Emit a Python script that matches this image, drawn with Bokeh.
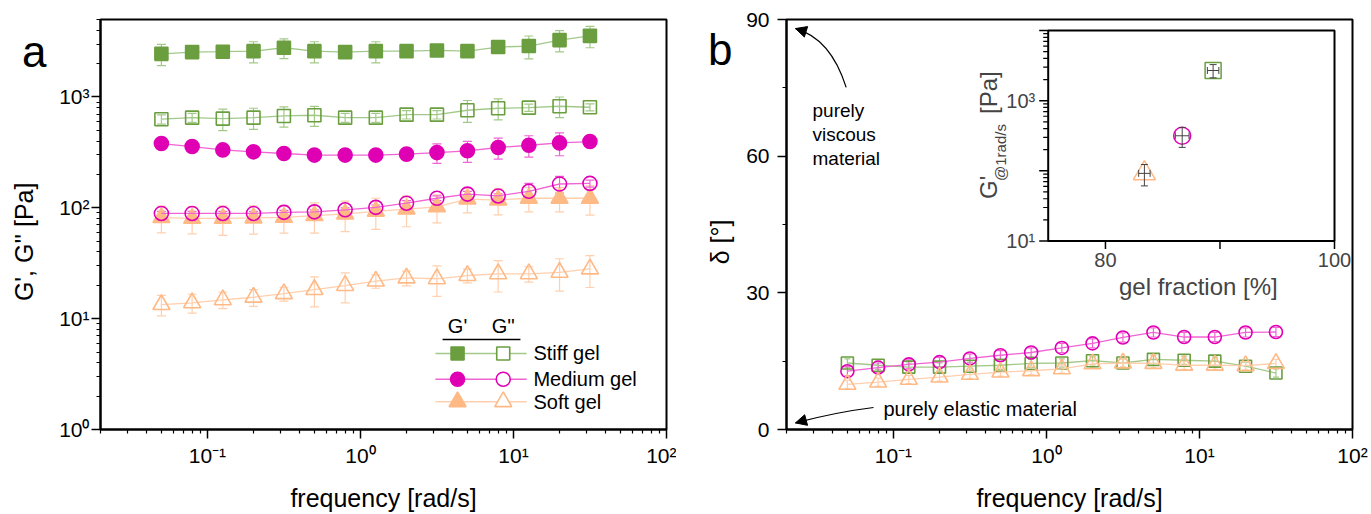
import math
from bokeh.plotting import figure
from bokeh.layouts import row
from bokeh.models import (ColumnDataSource, Whisker, TeeHead, FixedTicker, CustomJSTickFormatter,
                          Label, Arrow, NormalHead, Range1d, LinearScale, LogScale, LinearAxis)
from bokeh.embed import file_html
from bokeh.resources import INLINE

FONT = "Liberation Sans"

# ---------------- data ----------------
freq = [0.05, 0.0794, 0.126, 0.2, 0.316, 0.5, 0.794, 1.26, 2.0, 3.16, 5.0, 7.94, 12.6, 20.0, 31.6]

stiff_Gp = [2450, 2540, 2560, 2590, 2780, 2590, 2540, 2590, 2590, 2630, 2590, 2820, 2880, 3260, 3560]
stiff_Gp_err = [530, 150, 150, 560, 560, 560, 150, 560, 150, 150, 150, 150, 670, 710, 780]
stiff_Gpp = [630, 651, 638, 651, 674, 684, 651, 651, 693, 693, 759, 791, 801, 825, 808]
stiff_Gpp_err = [60, 60, 140, 140, 140, 140, 60, 60, 60, 60, 170, 170, 60, 175, 60]

medium_Gp = [380, 357, 333, 320, 309, 299, 299, 299, 305, 315, 327, 350, 367, 385, 396]
medium_Gp_err = [25, 25, 25, 25, 25, 25, 25, 25, 25, 63, 70, 75, 80, 90, 25]
medium_Gpp = [89, 89, 89, 89, 91, 92, 96, 101, 110, 122, 133, 128, 141, 164, 166]
medium_Gpp_err = [4, 4, 4, 4, 4, 4, 4, 5, 6, 6, 8, 6, 25, 28, 12]

soft_Gp = [81.5, 80.3, 80.3, 81, 82, 85, 88, 93, 97.5, 102, 120, 117.5, 122, 122, 122]
soft_Gp_err = [22, 22, 24, 23, 23, 26, 27, 29, 30, 29, 30, 31, 30, 30, 36]
soft_Gpp = [13.4, 13.9, 14.8, 15.6, 16.8, 18.3, 19.9, 21.8, 23.3, 22.9, 24.5, 25.4, 25.4, 26.2, 28.1]
soft_Gpp_err = [2.8, 2.7, 2.5, 2.7, 2.4, 5.5, 6, 3, 3.5, 7, 3.5, 8, 4, 8.5, 9]

delta_stiff = [14.6, 14.1, 13.7, 13.7, 13.9, 14.1, 14.5, 14.6, 15.1, 14.6, 15.4, 15.2, 15.0, 13.9, 12.4]
delta_stiff_err = [0.9] * 15
delta_medium = [12.8, 13.6, 14.3, 14.8, 15.6, 16.3, 16.9, 17.9, 18.9, 20.2, 21.3, 20.3, 20.3, 21.3, 21.4]
delta_medium_err = [1.0] * 15
delta_soft = [9.9, 10.4, 11.0, 11.5, 12.1, 12.6, 12.9, 13.3, 14.4, 14.6, 14.5, 14.1, 14.1, 14.0, 14.5]
delta_soft_err = [0.9] * 15

gel_fraction = [83.4, 86.7, 89.4]          # soft, medium, stiff
gel_fraction_err = [0.5, 0.6, 0.5]
G_at_1 = [92, 316, 2690]
G_at_1_err = [31, 100, 575]

series_names = ["Stiff gel", "Medium gel", "Soft gel"]
panel_letters = ["a", "b"]

x_major = [0.1, 1, 10, 100]
x_minor = [0.02, 0.03, 0.04, 0.05, 0.06, 0.07, 0.08, 0.09,
           0.2, 0.3, 0.4, 0.5, 0.6, 0.7, 0.8, 0.9,
           2, 3, 4, 5, 6, 7, 8, 9, 20, 30, 40, 50, 60, 70, 80, 90]
ya_major = [1, 10, 100, 1000]
ya_minor = [2, 3, 4, 5, 6, 7, 8, 9, 20, 30, 40, 50, 60, 70, 80, 90,
            200, 300, 400, 500, 600, 700, 800, 900, 2000, 3000, 4000, 5000]
yb_major = [0, 30, 60, 90]
yb_minor = [15, 45, 75]
inset_y_major = [10, 100, 1000, 10000]
inset_y_minor = [2e1, 3e1, 4e1, 5e1, 6e1, 7e1, 8e1, 9e1,
                 2e2, 3e2, 4e2, 5e2, 6e2, 7e2, 8e2, 9e2,
                 2e3, 3e3, 4e3, 5e3, 6e3, 7e3, 8e3, 9e3]
inset_x_ticks = [80, 90, 100]
inset_x_labels = {80: "80", 100: "100"}
inset_y_labels = {10: "10\u00b9", 1000: "10\u00b3"}

# ---------------- styles ----------------
GREEN, GREEN_L = "#6a9e3f", "#a3c98a"
MAG, MAG_L = "#e000b4", "#f064d4"
ORA, ORA_L = "#ffb985", "#ffcfae"

FW, FH = 566, 410
NBSP = "\u00a0"

SUP_JS = """
const s = {"-":"\u207b","0":"\u2070","1":"\u00b9","2":"\u00b2","3":"\u00b3","4":"\u2074","5":"\u2075","6":"\u2076","7":"\u2077","8":"\u2078","9":"\u2079"};
const e = Math.round(Math.log10(tick));
return "10" + String(e).split("").map(c => s[c]).join("");
"""


def style(p):
    p.grid.visible = False
    p.outline_line_color = "black"
    p.outline_line_width = 2
    p.outline_line_alpha = 1
    p.background_fill_color = "white"
    p.border_fill_color = "white"
    for ax in p.axis:
        ax.axis_line_width = 2
        ax.axis_line_color = "black"
        ax.major_tick_line_width = 1.5
        ax.minor_tick_line_width = 1.2
        ax.major_tick_in = 0
        ax.major_tick_out = 9
        ax.minor_tick_in = 0
        ax.minor_tick_out = 4
        ax.major_label_text_font = FONT
        ax.major_label_text_font_size = "21px"
        ax.major_label_text_color = "black"
        ax.axis_label_text_font = FONT
        ax.axis_label_text_font_size = "25px"
        ax.axis_label_text_font_style = "normal"
        ax.axis_label_text_color = "black"


def letter_axis(p, letter, ypos, standoff):
    # an extra, line-less left axis whose single tick label is the panel letter
    ax = LinearAxis(ticker=FixedTicker(ticks=[ypos], minor_ticks=[]),
                    formatter=CustomJSTickFormatter(code=f"return '{letter}';"),
                    axis_line_color=None, major_tick_line_color=None, minor_tick_line_color=None,
                    major_tick_out=0, major_tick_in=0, minor_tick_out=0, minor_tick_in=0,
                    major_label_standoff=standoff, major_label_text_font=FONT,
                    major_label_text_font_size="44px", major_label_text_color="black")
    p.add_layout(ax, "left")


def add_series(p, x, y, err, color, lcolor, marker, size, filled, lw=1.6, cap=9):
    src = ColumnDataSource(dict(x=x, y=y,
                                lo=[a - b for a, b in zip(y, err)],
                                hi=[a + b for a, b in zip(y, err)]))
    w = Whisker(source=src, base="x", lower="lo", upper="hi", dimension="height",
                line_color=lcolor, line_width=1.2, level="underlay",
                lower_head=TeeHead(size=cap, line_color=lcolor, line_width=1.2),
                upper_head=TeeHead(size=cap, line_color=lcolor, line_width=1.2))
    p.add_layout(w)
    p.line("x", "y", source=src, line_color=lcolor, line_width=1.3)
    p.scatter("x", "y", source=src, marker=marker, size=size,
              fill_color=color if filled else None, line_color=color, line_width=lw)


def label(p, text, x, y, size, xo=0, yo=0, align="left", base="middle", angle=0.0, **kw):
    p.add_layout(Label(x=x, y=y, x_offset=xo, y_offset=yo, text=text, text_font=FONT,
                       text_font_size=f"{size}px", text_align=align, text_baseline=base,
                       angle=angle, text_color="black", **kw))


# ---------------- panel a ----------------
pa = figure(frame_width=FW, frame_height=FH, x_axis_type="log", y_axis_type="log",
            x_range=Range1d(0.02, 100), y_range=Range1d(1, 5000),
            output_backend="svg", toolbar_location=None,
            min_border_left=100, min_border_right=10, min_border_top=19, min_border_bottom=84)
style(pa)
pa.xaxis.ticker = FixedTicker(ticks=x_major, minor_ticks=x_minor)
pa.yaxis.ticker = FixedTicker(ticks=ya_major, minor_ticks=ya_minor)
pa.xaxis.formatter = CustomJSTickFormatter(code=SUP_JS)
pa.yaxis.formatter = CustomJSTickFormatter(code=SUP_JS)
pa.xaxis.axis_label = "frequency [rad/s]"
pa.xaxis.axis_label_standoff = 14
pa.xaxis.major_label_standoff = 5
pa.yaxis.major_label_standoff = 2
pa.yaxis.axis_label = "G', G'' [Pa]" + NBSP * 5
pa.yaxis.axis_label_standoff = 18
letter_axis(pa, panel_letters[0], 2550, -39)

add_series(pa, freq, soft_Gpp, soft_Gpp_err, ORA, ORA_L, "triangle", 17, False)
add_series(pa, freq, soft_Gp, soft_Gp_err, ORA, ORA_L, "triangle", 17, True)
add_series(pa, freq, medium_Gp, medium_Gp_err, MAG, MAG_L, "circle", 14, True)
add_series(pa, freq, medium_Gpp, medium_Gpp_err, MAG, MAG_L, "circle", 14, False)
add_series(pa, freq, stiff_Gpp, stiff_Gpp_err, GREEN, GREEN_L, "square", 13, False)
add_series(pa, freq, stiff_Gp, stiff_Gp_err, GREEN, GREEN_L, "square", 13, True)

# legend (drawn by hand, like the original two-column legend)
leg_rows = [(series_names[0], GREEN, GREEN_L, "square", 13, 4.85),
            (series_names[1], MAG, MAG_L, "circle", 14, 2.84),
            (series_names[2], ORA, ORA_L, "triangle", 17, 1.78)]
for name, c, lc, mk, sz, yy in leg_rows:
    pa.line([3.09, 12.2], [yy, yy], line_color=lc, line_width=1.3)
    pa.scatter([4.31], [yy], marker=mk, size=sz, fill_color=c, line_color=c, line_width=1.6)
    pa.scatter([8.57], [yy], marker=mk, size=sz, fill_color="white", line_color=c, line_width=1.6)
    label(pa, name, 13.5, yy, 20)
label(pa, "G'", 4.31, 8.5, 20, align="center")
label(pa, "G''", 8.57, 8.5, 20, align="center")
pa.line([3.44, 11.1], [6.49, 6.49], line_color="black", line_width=1.5)

# ---------------- panel b ----------------
pb = figure(frame_width=FW, frame_height=FH, x_axis_type="log",
            x_range=Range1d(0.02, 100), y_range=Range1d(0, 90),
            output_backend="svg", toolbar_location=None,
            min_border_left=110, min_border_right=16, min_border_top=19, min_border_bottom=84)
style(pb)
pb.xaxis.ticker = FixedTicker(ticks=x_major, minor_ticks=x_minor)
pb.xaxis.formatter = CustomJSTickFormatter(code=SUP_JS)
pb.yaxis.ticker = FixedTicker(ticks=yb_major, minor_ticks=yb_minor)
pb.xaxis.axis_label = "frequency [rad/s]"
pb.xaxis.axis_label_standoff = 14
pb.xaxis.major_label_standoff = 5
pb.yaxis.major_label_standoff = 8
pb.yaxis.axis_label = "\u03b4 [\u00b0]" + NBSP * 5
pb.yaxis.axis_label_standoff = 9
letter_axis(pb, panel_letters[1], 83.4, -29)

add_series(pb, freq, delta_stiff, delta_stiff_err, GREEN, GREEN_L, "square", 12, False, cap=6)
add_series(pb, freq, delta_medium, delta_medium_err, MAG, MAG_L, "circle", 13, False, cap=6)
add_series(pb, freq, delta_soft, delta_soft_err, ORA, ORA_L, "triangle", 17, False, cap=6)

# annotations
label(pb, "purely", 0.02, 90, 19, xo=26, yo=-90.7)
label(pb, "viscous", 0.02, 90, 19, xo=26, yo=-114.7)
label(pb, "material", 0.02, 90, 19, xo=26, yo=-138.7)
label(pb, "purely elastic material", 0.02, 0, 20, xo=97, yo=20.3)

pb.quadratic(x0=[0.0491], y0=[75.1], x1=[0.0229], y1=[88.0], cx=[0.0388], cy=[85.9],
             line_color="black", line_width=1.2)
pb.add_layout(Arrow(end=NormalHead(size=11, fill_color="black", line_color="black"),
                    x_start=0.0266, y_start=87.33, x_end=0.0229, y_end=88.01,
                    line_color="black", line_width=1.2))
pb.quadratic(x0=[0.0741], y0=[4.83], x1=[0.0229], y1=[1.45], cx=[0.0418], cy=[3.80],
             line_color="black", line_width=1.2)
pb.add_layout(Arrow(end=NormalHead(size=11, fill_color="black", line_color="black"),
                    x_start=0.0266, y_start=2.04, x_end=0.0229, y_end=1.45,
                    line_color="black", line_width=1.2))

# ---------------- inset (drawn inside panel b frame with extra ranges) ----------------
# inset box position relative to the panel-b frame (pixels)
ins_l, ins_r, ins_t, ins_b = 261.7, 548.0, 11.0, 221.5
gx0, gx1 = 75.0, 100.0
fx_l = ins_l / FW
fx_r = ins_r / FW
span = (gx1 - gx0) / (fx_r - fx_l)
ix0 = gx0 - fx_l * span
fy_b = (FH - ins_b) / FH
fy_t = (FH - ins_t) / FH
lspan = 3.0 / (fy_t - fy_b)
ly0 = 1.0 - fy_b * lspan
pb.extra_x_ranges = {"ix": Range1d(ix0, ix0 + span)}
pb.extra_x_scales = {"ix": LinearScale()}
pb.extra_y_ranges = {"iy": Range1d(10 ** ly0, 10 ** (ly0 + lspan))}
pb.extra_y_scales = {"iy": LogScale()}
ux = span / FW
yfac = 10 ** (lspan / FH)
IR = dict(x_range_name="ix", y_range_name="iy")

pb.quad(left=[gx0], right=[gx1], bottom=[10], top=[10000], fill_color="white",
        line_color="black", line_width=2, **IR)
pb.segment(x0=[gx0] * len(inset_y_major), y0=inset_y_major,
           x1=[gx0 - 9 * ux] * len(inset_y_major), y1=inset_y_major,
           line_color="black", line_width=1.5, **IR)
pb.segment(x0=[gx0] * len(inset_y_minor), y0=inset_y_minor,
           x1=[gx0 - 5 * ux] * len(inset_y_minor), y1=inset_y_minor,
           line_color="black", line_width=1.2, **IR)
pb.segment(x0=inset_x_ticks, y0=[10] * 3, x1=inset_x_ticks, y1=[10 / yfac ** 8] * 3,
           line_color="black", line_width=1.5, **IR)
for v, t in inset_y_labels.items():
    pb.add_layout(Label(x=gx0, y=v, x_offset=-13, text=t, text_font=FONT, text_font_size="20px",
                        text_align="right", text_baseline="middle", **IR))
for v, t in inset_x_labels.items():
    pb.add_layout(Label(x=v, y=10, y_offset=-12, text=t, text_font=FONT, text_font_size="20px",
                        text_align="center", text_baseline="top", **IR))
pb.add_layout(Label(x=87.5, y=10, x_offset=7, y_offset=-45.5, text="gel fraction [%]", text_font=FONT,
                    text_font_size="24px", text_align="center", text_baseline="middle", **IR))
pb.add_layout(Label(x=gx0, y=10, x_offset=-59.7, y_offset=42, text="G'", text_font=FONT,
                    text_font_size="24px", text_align="left", text_baseline="middle",
                    angle=math.pi / 2, **IR))
pb.add_layout(Label(x=gx0, y=10, x_offset=-47.7, y_offset=60, text="@1rad/s", text_font=FONT,
                    text_font_size="15px", text_align="left", text_baseline="middle",
                    angle=math.pi / 2, **IR))
pb.add_layout(Label(x=gx0, y=10, x_offset=-59.7, y_offset=127, text="[Pa]", text_font=FONT,
                    text_font_size="24px", text_align="left", text_baseline="middle",
                    angle=math.pi / 2, **IR))

ylo = [a - b for a, b in zip(G_at_1, G_at_1_err)]
yhi = [a + b for a, b in zip(G_at_1, G_at_1_err)]
xlo = [a - b for a, b in zip(gel_fraction, gel_fraction_err)]
xhi = [a + b for a, b in zip(gel_fraction, gel_fraction_err)]
inset_src = ColumnDataSource(dict(
    x=gel_fraction, y=G_at_1, ylo=ylo, yhi=yhi, xlo=xlo, xhi=xhi,
    marker=["triangle", "circle", "square"], size=[22, 17, 16], color=[ORA, MAG, GREEN]))
pb.scatter("x", "y", source=inset_src, marker="marker", size="size", fill_color=None,
           line_color="color", line_width=1.5, **IR)
ECOL = "#444444"
pb.segment(x0="x", y0="ylo", x1="x", y1="yhi", source=inset_src, line_color=ECOL, line_width=1, **IR)
pb.segment(x0="xlo", y0="y", x1="xhi", y1="y", source=inset_src, line_color=ECOL, line_width=1, **IR)
pb.scatter(x=gel_fraction * 2, y=ylo + yhi, marker="dash", size=7, line_color=ECOL, line_width=1, **IR)
pb.scatter(x=xlo + xhi, y=G_at_1 * 2, marker="dash", size=7, angle=math.pi / 2,
           line_color=ECOL, line_width=1, **IR)

layout = row(pa, pb)
with open("out.html", "w", encoding="utf-8") as f:
    f.write(file_html(layout, INLINE))
